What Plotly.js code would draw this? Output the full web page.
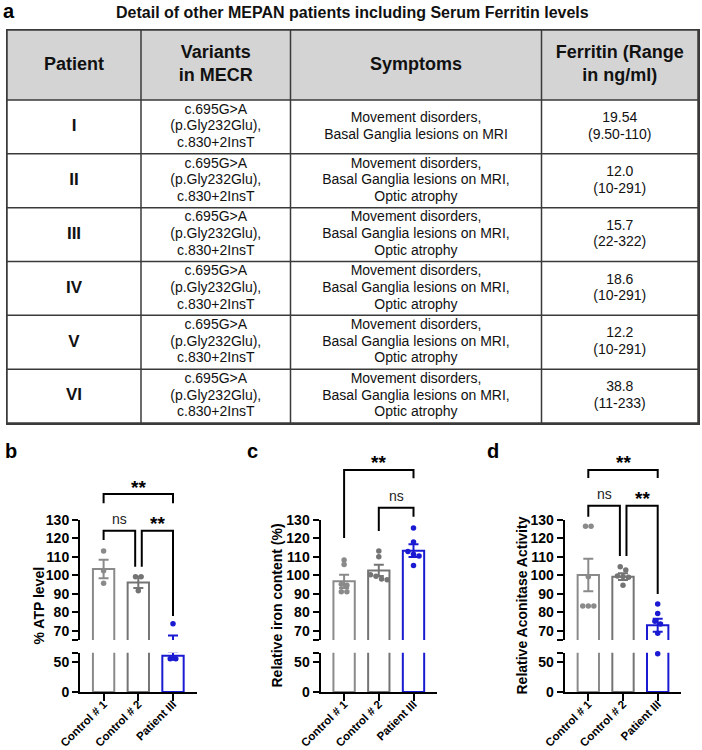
<!DOCTYPE html>
<html><head><meta charset="utf-8">
<script src="https://cdn.plot.ly/plotly-3.0.1.min.js"></script>
<style>html,body{margin:0;padding:0;background:#fff}</style>
</head><body>
<div id="chart" style="width:702px;height:750px"></div>
<script>
// ---------------- table data ----------------
const tableTitle = 'Detail of other MEPAN patients including Serum Ferritin levels';
const tableHeaders = ['Patient', 'Variants<br>in MECR', 'Symptoms', 'Ferritin (Range<br>in ng/ml)'];
const patients = ['I', 'II', 'III', 'IV', 'V', 'VI'];
const variants = [
  'c.695G>A<br>(p.Gly232Glu),<br>c.830+2InsT',
  'c.695G>A<br>(p.Gly232Glu),<br>c.830+2InsT',
  'c.695G>A<br>(p.Gly232Glu),<br>c.830+2InsT',
  'c.695G>A<br>(p.Gly232Glu),<br>c.830+2InsT',
  'c.695G>A<br>(p.Gly232Glu),<br>c.830+2InsT',
  'c.695G>A<br>(p.Gly232Glu),<br>c.830+2InsT'
];
const symptoms = [
  'Movement disorders,<br>Basal Ganglia lesions on MRI',
  'Movement disorders,<br>Basal Ganglia lesions on MRI,<br>Optic atrophy',
  'Movement disorders,<br>Basal Ganglia lesions on MRI,<br>Optic atrophy',
  'Movement disorders,<br>Basal Ganglia lesions on MRI,<br>Optic atrophy',
  'Movement disorders,<br>Basal Ganglia lesions on MRI,<br>Optic atrophy',
  'Movement disorders,<br>Basal Ganglia lesions on MRI,<br>Optic atrophy'
];
const ferritinValues = ['19.54', '12.0', '15.7', '18.6', '12.2', '38.8'];
const ferritinRanges = ['(9.50-110)', '(10-291)', '(22-322)', '(10-291)', '(10-291)', '(11-233)'];

// ---------------- bar chart data ----------------
const groups = ['Control # 1', 'Control # 2', 'Patient III'];

const atpMean = [103.5, 96.2, 61.0];
const atpSem = [5.0, 3.1, 6.5];
const atpPoints = [[113.2, 102.5, 95.7], [99.3, 99.3, 91.7], [73.8, 55.8, 55.8]];
const atpComparisons = [[0, 2, '**'], [0, 1, 'ns'], [1, 2, '**']];

const ironMean = [96.8, 102.7, 113.4];
const ironSem = [3.6, 3.1, 3.4];
const ironPoints = [
  [108.4, 105.9, 95.2, 94.6, 91.2, 91.2],
  [113.2, 110.1, 100.3, 99.5, 98.0, 97.6],
  [125.6, 118.1, 113.0, 111.5, 110.5, 105.4]
];
const ironComparisons = [[0, 2, '**'], [1, 2, 'ns']];

const aconMean = [100.2, 99.3, 73.0];
const aconSem = [8.8, 1.8, 3.5];
const aconPoints = [
  [126.6, 126.6, 99.2, 83.4, 83.4, 83.4],
  [104.7, 102.9, 99.6, 99.4, 99.0, 94.7],
  [84.5, 79.4, 75.2, 73.6, 68.7, 64.4]
];
const aconComparisons = [[0, 2, '**'], [0, 1, 'ns'], [1, 2, '**']];

const yTickValsUpper = [70, 80, 90, 100, 110, 120, 130];
const yTickValsLower = [0, 50];

// ---------------- layout geometry (pixels) ----------------
const W = 702, H = 750;
const px = v => v / W;
const py = v => 1 - v / H;
const FONT = 'Liberation Sans, Arial, Helvetica, sans-serif';
const groupColors = ['#8a8a8a', '#747474', '#1a1ad2'];
const BORDER = '#3a3a3a';

const colEdges = [7, 141, 290.5, 541.5, 698];
const tableTop = 30, headerBottom = 100, tableBottom = 423;
const rowH = (tableBottom - headerBottom) / patients.length;
const rowEdges = [tableTop, headerBottom].concat(patients.map((_, i) => headerBottom + rowH * (i + 1)));
const colMid = colEdges.slice(0, -1).map((e, i) => (e + colEdges[i + 1]) / 2);
const rowMid = rowEdges.slice(0, -1).map((e, i) => (e + rowEdges[i + 1]) / 2);
const lineGap = 16.6;

const upperRange = [65, 130], lowerRange = [0, 66];
const upperPx = [640, 520], lowerPx = [692, 652.8];
const xRange = [-0.68, 2.68];
const xLenPx = 116.6;
const barWidth = 0.615;

const data = [];
const shapes = [];
const annotations = [];
const layout = {
  width: W, height: H,
  margin: {l: 0, r: 0, t: 0, b: 0},
  paper_bgcolor: '#ffffff', plot_bgcolor: 'rgba(0,0,0,0)',
  showlegend: false, barmode: 'overlay',
  font: {family: FONT, color: '#000'}
};

// ---------------- table ----------------
data.push({
  type: 'heatmap', x: colEdges, y: rowEdges,
  z: rowEdges.slice(0, -1).map((_, r) => colMid.map(() => (r === 0 ? 1 : 0))),
  colorscale: [[0, '#ffffff'], [1, '#d4d4d4']], zmin: 0, zmax: 1,
  showscale: false, hoverinfo: 'skip', xaxis: 'x', yaxis: 'y'
});
data.push({
  type: 'scatter', mode: 'text', x: colMid, y: colMid.map(() => rowMid[0]),
  text: tableHeaders, textposition: 'middle center', cliponaxis: false,
  textfont: {family: FONT, size: 18, color: '#111', weight: 'bold'},
  hoverinfo: 'skip', xaxis: 'x', yaxis: 'y'
});
const bodyColumns = [patients, variants, symptoms, ferritinValues.map((v, i) => v + '<br>' + ferritinRanges[i])];
bodyColumns.forEach((col, c) => {
  const xs = [], ys = [], ts = [];
  col.forEach((cell, r) => {
    const lines = cell.split('<br>');
    lines.forEach((ln, j) => {
      xs.push(colMid[c]);
      ys.push(rowMid[r + 1] + (j - (lines.length - 1) / 2) * lineGap);
      ts.push(ln);
    });
  });
  data.push({
    type: 'scatter', mode: 'text', x: xs, y: ys, text: ts, textposition: 'middle center', cliponaxis: false,
    textfont: {family: FONT, size: c === 0 ? 17 : 14, color: '#111', weight: c === 0 ? 'bold' : 'normal'},
    hoverinfo: 'skip', xaxis: 'x', yaxis: 'y'
  });
});
// cell borders
colEdges.forEach(e => shapes.push({type: 'line', xref: 'x', yref: 'y', x0: e, x1: e, y0: tableTop, y1: tableBottom,
  layer: 'above', line: {color: BORDER, width: 1.5}}));
rowEdges.forEach(e => shapes.push({type: 'line', xref: 'x', yref: 'y', x0: colEdges[0], x1: colEdges[colEdges.length - 1], y0: e, y1: e,
  layer: 'above', line: {color: BORDER, width: 1.5}}));
const tableAxis = {
  showline: true, mirror: true, linecolor: BORDER, linewidth: 1.5, layer: 'above traces',
  showgrid: false, ticks: '', showticklabels: false, zeroline: false, fixedrange: true
};
layout.xaxis = Object.assign({}, tableAxis, {domain: [px(colEdges[0]), px(colEdges[4])], range: [colEdges[0], colEdges[4]]});
layout.yaxis = Object.assign({}, tableAxis, {domain: [py(tableBottom), py(tableTop)], range: [tableBottom, tableTop], anchor: 'x'});

annotations.push({xref: 'paper', yref: 'paper', x: px(352), y: py(13), text: tableTitle, showarrow: false,
  xanchor: 'center', yanchor: 'middle', font: {family: FONT, size: 16, weight: 'bold', color: '#111'}});

// ---------------- bar charts ----------------
const charts = [
  {letter: 'b', letterX: 11, x0: 80, titleX: 38.5, title: '% ATP level', mean: atpMean, sem: atpSem, pts: atpPoints, comps: atpComparisons,
   geom: [{top: 494, l: 503.3, r: 503.3, dl: 0, dr: 0, ty: 483},
          {top: 530.7, l: 540, r: 566.7, dl: 0, dr: -0.09, ty: 519},
          {top: 530.7, l: 566.7, r: 616, dl: 0.1, dr: 0, ty: 519}]},
  {letter: 'c', letterX: 253, x0: 320.5, titleX: 276.5, title: 'Relative iron content (%)', mean: ironMean, sem: ironSem, pts: ironPoints, comps: ironComparisons,
   geom: [{top: 470, l: 538, r: 478.3, dl: 0, dr: 0, ty: 459},
          {top: 507.7, l: 531, r: 516.7, dl: 0, dr: 0, ty: 496}]},
  {letter: 'd', letterX: 493, x0: 564.7, titleX: 521.5, title: 'Relative Aconitase Activity', mean: aconMean, sem: aconSem, pts: aconPoints, comps: aconComparisons,
   geom: [{top: 470, l: 478, r: 478, dl: 0, dr: 0, ty: 458},
          {top: 505.7, l: 516.7, r: 556, dl: 0, dr: -0.09, ty: 494},
          {top: 505.7, l: 556, r: 594, dl: 0.1, dr: 0, ty: 494}]}
];

function valToPx(v) {
  if (v >= upperRange[0]) return upperPx[0] + (v - upperRange[0]) / (upperRange[1] - upperRange[0]) * (upperPx[1] - upperPx[0]);
  return lowerPx[0] + (v - lowerRange[0]) / (lowerRange[1] - lowerRange[0]) * (lowerPx[1] - lowerPx[0]);
}

charts.forEach((ch, k) => {
  const xa = 'x' + (k + 2), yLow = 'y' + (2 * k + 2), yUp = 'y' + (2 * k + 3);
  const cats = groups.map((_, i) => i);

  [yLow, yUp].forEach(ya => {
    groups.forEach((g, i) => {
      data.push({
        type: 'bar', x: [cats[i]], y: [ch.mean[i]], width: barWidth, xaxis: xa, yaxis: ya,
        marker: {color: '#ffffff', line: {color: groupColors[i], width: 2}},
        error_y: {type: 'data', array: [ch.sem[i]], visible: true, color: groupColors[i], thickness: 2, width: 5},
        hoverinfo: 'skip'
      });
    });
  });

  // individual points: spread points whose positions overlap
  groups.forEach((g, i) => {
    const vals = ch.pts[i].slice().sort((a, b) => b - a);
    const clusters = [];
    vals.forEach(v => {
      const last = clusters[clusters.length - 1];
      if (last && Math.abs(valToPx(last[last.length - 1]) - valToPx(v)) < 4.5) last.push(v);
      else clusters.push([v]);
    });
    const up = {x: [], y: []}, low = {x: [], y: []};
    clusters.forEach(cl => {
      cl.forEach((v, j) => {
        const xo = cats[i] + (j - (cl.length - 1) / 2) * 0.16;
        const tgt = v >= upperRange[0] ? up : low;
        tgt.x.push(xo); tgt.y.push(v);
      });
    });
    [[up, yUp], [low, yLow]].forEach(([s, ya]) => {
      if (!s.x.length) return;
      data.push({type: 'scatter', mode: 'markers', x: s.x, y: s.y, xaxis: xa, yaxis: ya, cliponaxis: false,
        marker: {size: 5.5, color: groupColors[i]}, hoverinfo: 'skip'});
    });
  });

  const axisCommon = {showline: true, linewidth: 2, linecolor: '#000', ticks: 'outside', tickwidth: 2, tickcolor: '#000',
    showgrid: false, zeroline: false, fixedrange: true, tickmode: 'array',
    tickfont: {family: FONT, size: 14, weight: 'bold', color: '#000'}};
  layout['xaxis' + (k + 2)] = Object.assign({}, axisCommon, {
    domain: [px(ch.x0), px(ch.x0 + xLenPx)], range: xRange, anchor: yLow,
    tickvals: cats, ticktext: groups, tickangle: -45, ticklen: 7, ticklabelstandoff: -8,
    tickfont: {family: FONT, size: 11.5, weight: 'bold', color: '#000'}
  });
  layout['yaxis' + (2 * k + 2)] = Object.assign({}, axisCommon, {
    domain: [py(lowerPx[0]), py(lowerPx[1])], range: lowerRange, anchor: xa, ticklen: 6,
    tickvals: yTickValsLower.concat([lowerRange[1]]), ticktext: yTickValsLower.map(String).concat([''])
  });
  layout['yaxis' + (2 * k + 3)] = Object.assign({}, axisCommon, {
    domain: [py(upperPx[0]), py(upperPx[1])], range: upperRange, anchor: xa, ticklen: 6,
    tickvals: [upperRange[0]].concat(yTickValsUpper), ticktext: [''].concat(yTickValsUpper.map(String))
  });

  annotations.push({xref: 'paper', yref: 'paper', x: px(ch.titleX), y: py((upperPx[1] + lowerPx[0]) / 2), text: ch.title,
    textangle: -90, showarrow: false, xanchor: 'center', yanchor: 'middle', font: {family: FONT, size: 14, weight: 'bold'}});
  annotations.push({xref: 'paper', yref: 'paper', x: px(ch.letterX), y: py(451), text: ch.letter, showarrow: false,
    xanchor: 'center', yanchor: 'middle', font: {family: FONT, size: 20, weight: 'bold'}});

  ch.comps.forEach((cp, m) => {
    const gm = ch.geom[m];
    const xl = cp[0] + gm.dl, xr = cp[1] + gm.dr;
    shapes.push({type: 'path', xref: xa, yref: 'paper', layer: 'above',
      path: `M ${xl},${py(gm.l)} L ${xl},${py(gm.top)} L ${xr},${py(gm.top)} L ${xr},${py(gm.r)}`,
      line: {color: '#000', width: 2}});
    const isStar = cp[2] === '**';
    annotations.push({xref: xa, yref: 'paper', x: (xl + xr) / 2, y: py(gm.ty + (isStar ? 4 : 0)), text: cp[2], showarrow: false,
      xanchor: 'center', yanchor: 'middle',
      font: isStar ? {family: FONT, size: 19, weight: 'bold', color: '#000'} : {family: FONT, size: 14, color: '#222'}});
  });
});

annotations.push({xref: 'paper', yref: 'paper', x: px(9), y: py(11), text: 'a', showarrow: false,
  xanchor: 'center', yanchor: 'middle', font: {family: FONT, size: 20, weight: 'bold'}});

layout.shapes = shapes;
layout.annotations = annotations;

Plotly.newPlot('chart', data, layout, {displayModeBar: false, staticPlot: true});
</script>
</body></html>
